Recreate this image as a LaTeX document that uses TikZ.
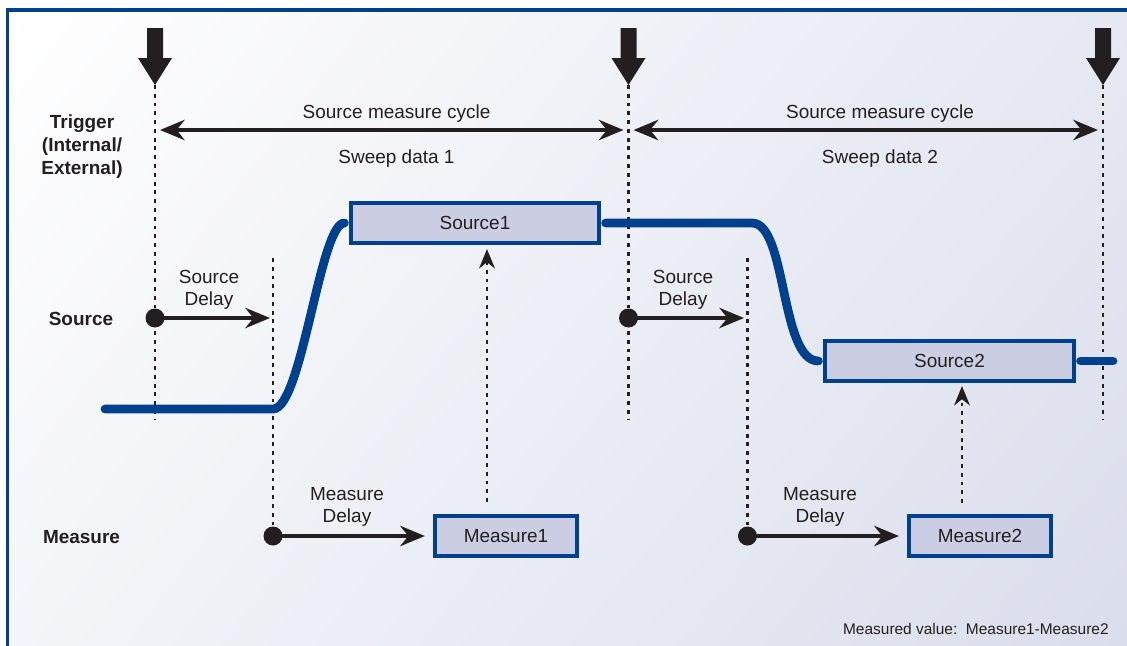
\documentclass[tikz,border=0pt]{standalone}
\usepackage{fontspec}
\setmainfont{Liberation Sans}
\usepackage{tikz}
\usetikzlibrary{calc}
\usetikzlibrary{arrows.meta, positioning, shadings}
\definecolor{keblue}{HTML}{00408C}
\definecolor{kefill}{HTML}{CBCEE3}
\definecolor{keink}{HTML}{231F20}
\definecolor{bgur}{RGB}{230,232,242}
\definecolor{bgll}{RGB}{244,245,249}
\definecolor{bglr}{RGB}{218,221,236}
\tikzset{>=Stealth}
\tikzset{
  guide/.style={keink, line width=1.3pt, dash pattern=on 2.2pt off 2.8pt},
  wave/.style={keblue, line width=5pt, line cap=round},
  srcbox/.style={draw=keblue, fill=kefill, line width=2.4pt, minimum height=0.8cm,
    inner sep=0pt, text=keink, font=\fontsize{10.8}{12.5}\selectfont},
  delayarrow/.style={keink, line width=2.3pt, -{Stealth[length=14pt,width=11.5pt]}},
  cycarrow/.style={keink, line width=2.3pt,
    {Stealth[length=14pt,width=11.5pt]}-{Stealth[length=14pt,width=11.5pt]}},
  backarrow/.style={keink, line width=1.3pt, dash pattern=on 2.2pt off 2.8pt,
    -{Stealth[length=11pt,width=9pt]}},
  lbl/.style={text=keink, inner sep=0pt, align=center, font=\fontsize{10.8}{12.5}\selectfont},
  hdr/.style={text=keink, inner sep=0pt, align=center, font=\fontsize{10.8}{13}\selectfont\bfseries},
}

\begin{document}
\begin{tikzpicture}[x=0.02cm, y=-0.02cm]
  % panel
  \useasboundingbox (0,0) rectangle (1127,646);
  \fill[white] (0,0) rectangle (1127,646);
  \shade[upper left=white, upper right=bgur, lower left=bgll, lower right=bglr]
    (7.5,10) rectangle (1127,646);
  \draw[keblue, line width=1.9pt] (7.5,646) -- (7.5,10) -- (1127,10);

  % trigger points and delay points
  \coordinate (t1) at (155,85);
  \coordinate (t2) at (628.5,85);
  \coordinate (t3) at (1103,85);
  \coordinate (d1) at (273,258);
  \coordinate (d2) at (747.5,258);
  \coordinate (cy) at (0,130);
  \coordinate (sd) at (0,318);
  \coordinate (bot) at (0,420);

  % trigger arrows
  \fill[keink] (t1) -- ++(-17,-27) -- ++(9,0) -- ++(0,-30) -- ++(16,0) -- ++(0,30) -- ++(9,0) -- cycle;
  \fill[keink] (t2) -- ++(-17,-27) -- ++(9,0) -- ++(0,-30) -- ++(16,0) -- ++(0,30) -- ++(9,0) -- cycle;
  \fill[keink] (t3) -- ++(-17,-27) -- ++(9,0) -- ++(0,-30) -- ++(16,0) -- ++(0,30) -- ++(9,0) -- cycle;

  % boxes
  \node[srcbox, minimum width=4.96cm] (s1) at (475,223) {Source1};
  \node[srcbox, minimum width=4.98cm] (s2) at (949.5,361) {Source2};
  \node[srcbox, minimum width=2.84cm] (m1) at (506,536) {Measure1};
  \node[srcbox, minimum width=2.84cm] (m2) at (980,536) {Measure2};

  % guides
  \draw[guide] (t1) -- (t1 |- bot);
  \draw[guide] (t2) -- (t2 |- bot);
  \draw[guide] (t3) -- (t3 |- bot);
  \draw[guide] (d1) -- (d1 |- m1);
  \draw[guide] (d2) -- (d2 |- m2);

  % source waveform
  \draw[wave, shorten >=0.09cm] (105,409) -- (d1 |- 0,409)
    .. controls (302,409) and (320,223) .. (s1.west);
  \draw[wave, shorten <=0.09cm, shorten >=0.09cm] (s1.east) -- (752,223)
    .. controls (787,223) and (780,361) .. (s2.west);
  \draw[wave, shorten <=0.09cm] (s2.east) -- (1113,361);

  % labels
  \node[hdr] (trig) at (82,146.5) {Trigger\\(Internal/\\External)};
  \node[hdr, anchor=base] (srclbl) at (81,325) {Source};
  \node[hdr] (meslbl) at (81.5,537) {Measure};
  \node[lbl, anchor=base] (cyc1) at (396.5,118) {Source measure cycle};
  \node[lbl, anchor=base] (swp1) at (396.5,163) {Sweep data 1};
  \node[lbl, anchor=base] (cyc2) at (880,118) {Source measure cycle};
  \node[lbl, anchor=base] (swp2) at (880,163) {Sweep data 2};
  \node[lbl] (sdl1) at (209,289.5) {Source\\Delay};
  \node[lbl] (sdl2) at (683,289.5) {Source\\Delay};
  \node[lbl] (mdl1) at (347,506.5) {Measure\\Delay};
  \node[lbl] (mdl2) at (820,507) {Measure\\Delay};
  \node[lbl, anchor=base east, font=\fontsize{8.8}{10}\selectfont] (note) at (1109,634)
    {Measured value:\ \ Measure1-Measure2};

  % cycle arrows
  \draw[cycarrow, shorten <=0.1cm, shorten >=0.1cm] (t1 |- cy) -- (t2 |- cy);
  \draw[cycarrow, shorten <=0.1cm, shorten >=0.1cm] (t2 |- cy) -- (t3 |- cy);

  % delay arrows
  \draw[delayarrow, shorten >=0.06cm] (t1 |- sd) -- (d1 |- sd);
  \draw[delayarrow, shorten >=0.07cm] (t2 |- sd) -- (d2 |- sd);
  \draw[delayarrow, shorten >=0.16cm] (d1 |- m1) -- (m1.west);
  \draw[delayarrow, shorten >=0.16cm] (d2 |- m2) -- (m2.west);
  \fill[keink] (t1 |- sd) circle (0.19cm);
  \fill[keink] (t2 |- sd) circle (0.19cm);
  \fill[keink] (d1 |- m1) circle (0.19cm);
  \fill[keink] (d2 |- m2) circle (0.19cm);

  % measured value back to source
  \coordinate (u1) at (487,502);
  \coordinate (u2) at (962,503);
  \draw[backarrow, shorten >=0.08cm] (u1) -- (u1 |- s1.south);
  \draw[backarrow, shorten >=0.06cm] (u2) -- (u2 |- s2.south);
\end{tikzpicture}
\end{document}
